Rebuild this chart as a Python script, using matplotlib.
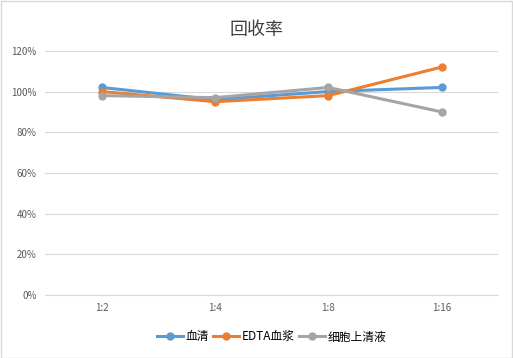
import matplotlib
matplotlib.use("Agg")
import matplotlib.pyplot as plt
from matplotlib.ticker import PercentFormatter

plt.rcParams['font.family'] = ['Noto Sans CJK SC', 'DejaVu Sans']

# 数据
categories = ["1:2", "1:4", "1:8", "1:16"]
serum = [1.02, 0.96, 1.00, 1.02]
edta_plasma = [1.00, 0.95, 0.98, 1.12]
supernatant = [0.98, 0.97, 1.02, 0.90]
labels = ["血清", "EDTA血浆", "细胞上清液"]
colors = ["#5B9BD5", "#ED7D31", "#A5A5A5"]

fig = plt.figure(figsize=(5.13, 3.58), dpi=100)
ax = fig.add_axes([0.088, 0.176, 0.883, 0.682])

x = range(len(categories))
for ys, lab, c in zip([serum, edta_plasma, supernatant], labels, colors):
    ax.plot(x, ys, color=c, lw=2.2, marker='o', ms=5, label=lab)

ax.set_xlim(-0.5, len(categories) - 0.5)
ax.set_ylim(0, 1.2)
ax.set_yticks([0, 0.2, 0.4, 0.6, 0.8, 1.0, 1.2])
ax.yaxis.set_major_formatter(PercentFormatter(1.0, decimals=0))
ax.set_xticks(list(x))
ax.set_xticklabels(categories)
ax.tick_params(axis='both', length=0, labelsize=7, colors='#595959', pad=6)
ax.grid(axis='y', color='#D9D9D9', lw=0.8)
ax.set_axisbelow(True)
for s in ['top', 'right', 'left']:
    ax.spines[s].set_visible(False)
ax.spines['bottom'].set_color('#D9D9D9')

fig.text(0.5, 0.915, "回收率", ha='center', va='center', fontsize=13, color='#404040')

ax.legend(loc='center', bbox_to_anchor=(0.5, -0.172), ncol=3, frameon=False,
          fontsize=8.5, handlelength=2.2, columnspacing=0.4, handletextpad=0.2)

fig.patches.append(plt.Rectangle((0.001, 0.001), 0.997, 0.997, transform=fig.transFigure,
                                 fill=False, edgecolor='#D9D9D9', lw=1))

fig.savefig("out.png", dpi=100)
